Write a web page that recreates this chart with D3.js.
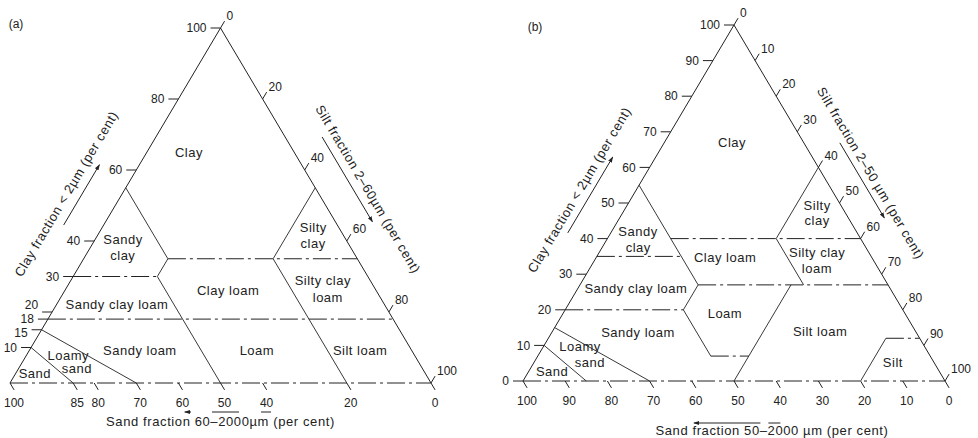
<!DOCTYPE html>
<html><head><meta charset="utf-8">
<script src="https://cdn.jsdelivr.net/npm/d3@7"></script>
<style>
html,body{margin:0;padding:0;background:#fff;}
svg{display:block;font-family:"Liberation Sans",Arial,sans-serif;}
</style></head><body>
<svg id="chart" width="978" height="438"></svg>
<script>
// ---------------- data ----------------
// (a) England & Wales classification (sand 60-2000 µm)
const clayTicksA = [100, 80, 60, 40, 30, 20, 18, 15, 10];
const siltTicksA = [0, 20, 40, 60, 80, 100];
const sandTicksA = [100, 85, 80, 70, 60, 50, 40, 20, 0];
// (b) USDA classification (sand 50-2000 µm)
const clayTicksB = [100, 90, 80, 70, 60, 50, 40, 30, 20, 10, 0];
const siltTicksB = [0, 10, 20, 30, 40, 50, 60, 70, 80, 90, 100];
const sandTicksB = [100, 90, 80, 70, 60, 50, 40, 30, 20, 10, 0];

// class boundaries as [clay %, silt %] vertices (sand = 100 - clay - silt)
const levelLinesA = [[[35, 20], [35, 65]], [[30, 0], [30, 20]], [[18, 0], [18, 82]]];
const slopeLinesA = [[[55, 0], [35, 20], [30, 20], [0, 50]], [[55, 45], [35, 45], [0, 80]],
                     [[15, 0], [0, 30]], [[10, 0], [0, 15]]];
const levelLinesB = [[[40, 15], [40, 60]], [[35, 0], [35, 20]], [[27, 28], [27, 73]],
                     [[20, 0], [20, 28]], [[7, 41], [7, 50]], [[12, 80], [12, 88]]];
const slopeLinesB = [[[55, 0], [27, 28], [20, 28], [7, 41]], [[27, 50], [0, 50]],
                     [[60, 40], [40, 40]], [[40, 40], [27, 53]], [[12, 80], [0, 80]],
                     [[15, 0], [0, 30]], [[10, 0], [0, 15]]];

// class names and their composition anchors [clay %, silt %]
const labelsA = [
  {t: "Clay", c: 65, s: 10}, {t: "Sandy", c: 40.3, s: 6.7}, {t: "clay", c: 35.8, s: 8.9},
  {t: "Sandy clay loam", c: 22, s: 14.4}, {t: "Clay loam", c: 26.2, s: 38.7},
  {t: "Silty", c: 43.7, s: 50.2}, {t: "clay", c: 39.4, s: 52.3},
  {t: "Silty clay", c: 29, s: 59.8}, {t: "loam", c: 24.2, s: 63.4},
  {t: "Loam", c: 9.3, s: 54}, {t: "Silt loam", c: 9.3, s: 78.5},
  {t: "Sandy loam", c: 9.3, s: 26.2}, {t: "Loamy", c: 7.9, s: 9.9},
  {t: "sand", c: 4.2, s: 13.8}, {t: "Sand", c: 2.8, s: 4.5}
];
const labelsB = [
  {t: "Clay", c: 67.1, s: 16}, {t: "Silty", c: 49.4, s: 45}, {t: "clay", c: 45.2, s: 47.1},
  {t: "Sandy", c: 42.1, s: 6.2}, {t: "clay", c: 37.6, s: 8.5},
  {t: "Clay loam", c: 34.8, s: 30.5}, {t: "Silty clay", c: 36, s: 51.7}, {t: "loam", c: 31.7, s: 53.8},
  {t: "Sandy clay loam", c: 26.1, s: 13.7}, {t: "Loam", c: 19.1, s: 38.3},
  {t: "Sandy loam", c: 13.5, s: 20.5}, {t: "Silt loam", c: 13.8, s: 63.5},
  {t: "Loamy", c: 9.6, s: 8.7}, {t: "sand", c: 5.1, s: 13.3}, {t: "Sand", c: 2.8, s: 5.5},
  {t: "Silt", c: 5.3, s: 85}
];

const titlesA = {panel: "(a)", clay: "Clay fraction < 2µm (per cent)",
  silt: "Silt fraction 2–60µm (per cent)", sand: "Sand fraction 60–2000µm (per cent)"};
const titlesB = {panel: "(b)", clay: "Clay fraction < 2µm (per cent)",
  silt: "Silt fraction 2–50 µm (per cent)", sand: "Sand fraction 50–2000 µm (per cent)"};

// ---------------- drawing ----------------
const svg = d3.select("#chart");
const INK = "#222";
const TICKFONT = 12;
const defs = svg.append("defs");
defs.append("marker").attr("id", "ah").attr("viewBox", "0 0 10 10")
  .attr("refX", 9).attr("refY", 5).attr("markerWidth", 6).attr("markerHeight", 6)
  .attr("orient", "auto-start-reverse")
  .append("path").attr("d", "M0,1.5 L10,5 L0,8.5 Z").attr("fill", INK);

function drawPanel(cfg) {
  const g = svg.append("g");
  const x = d3.scaleLinear().domain([0, 100]).range(cfg.xRange);
  const y = d3.scaleLinear().domain([0, 100]).range(cfg.yRange);
  const P = (clay, silt) => [x(silt + clay / 2), y(clay)];
  const line = d3.line().x(d => P(d[0], d[1])[0]).y(d => P(d[0], d[1])[1]);
  const ang = Math.atan2(y(0) - y(100), x(50) - x(0)) * 180 / Math.PI;
  const ux = Math.cos(ang * Math.PI / 180), uy = Math.sin(ang * Math.PI / 180);
  const dash = "18,4,3,4";

  // triangle edges
  g.append("path").attr("d", line([[0, 0], [100, 0], [0, 100]]))
    .attr("fill", "none").attr("stroke", INK).attr("stroke-width", 1);
  g.append("path").attr("d", line([[0, 0], [0, 100]]))
    .attr("fill", "none").attr("stroke", INK).attr("stroke-width", 1).attr("stroke-dasharray", dash);

  // class boundaries
  g.selectAll(".lvl").data(cfg.level).join("path").attr("d", line)
    .attr("fill", "none").attr("stroke", INK).attr("stroke-width", 1).attr("stroke-dasharray", dash);
  g.selectAll(".slp").data(cfg.slope).join("path").attr("d", line)
    .attr("fill", "none").attr("stroke", INK).attr("stroke-width", 0.9);

  // class labels
  g.selectAll(".cls").data(cfg.labels).join("text")
    .attr("x", d => P(d.c, d.s)[0]).attr("y", d => P(d.c, d.s)[1]).attr("dy", "0.35em")
    .attr("text-anchor", "middle").attr("font-size", 13).attr("letter-spacing", 0.5)
    .attr("fill", INK).text(d => d.t);

  // clay ticks (left edge)
  cfg.clayTicks.forEach(v => {
    const [ex, ey] = P(v, 0);
    g.append("line").attr("x1", ex - 10).attr("y1", ey).attr("x2", ex).attr("y2", ey)
      .attr("stroke", INK).attr("stroke-width", 1);
    g.append("text").attr("x", ex - 14).attr("y", ey + (cfg.clayNudge[v] || 0)).attr("dy", "0.35em")
      .attr("text-anchor", "end").attr("font-size", TICKFONT).attr("fill", INK).text(v);
  });
  // silt ticks (right edge)
  cfg.siltTicks.forEach(v => {
    const [ex, ey] = P(100 - v, v);
    g.append("line").attr("x1", ex).attr("y1", ey).attr("x2", ex + 8 * ux).attr("y2", ey - 8 * uy)
      .attr("stroke", INK).attr("stroke-width", 1);
    g.append("text").attr("x", ex + 6).attr("y", ey - 12).attr("dy", "0.35em")
      .attr("text-anchor", "start").attr("font-size", TICKFONT).attr("fill", INK).text(v);
  });
  // sand ticks (bottom edge)
  cfg.sandTicks.forEach(v => {
    const [ex, ey] = P(0, 100 - v);
    g.append("line").attr("x1", ex).attr("y1", ey).attr("x2", ex + 8 * ux).attr("y2", ey + 8 * uy)
      .attr("stroke", INK).attr("stroke-width", 1);
    g.append("text").attr("x", ex + 4).attr("y", ey + 20).attr("dy", "0.35em")
      .attr("text-anchor", "middle").attr("font-size", TICKFONT).attr("fill", INK).text(v);
  });

  // panel letter
  g.append("text").attr("x", cfg.panelPos[0]).attr("y", cfg.panelPos[1]).attr("dy", "0.35em")
    .attr("text-anchor", "middle").attr("font-size", 12).attr("fill", INK).text(cfg.titles.panel);

  // clay axis title + arrow (parallel to left edge)
  const [lx, ly] = P(cfg.clayTitleAt, 0);
  g.append("text").attr("transform", `translate(${lx + cfg.clayTitleOff},${ly}) rotate(${-ang})`)
    .attr("dy", "0.35em").attr("text-anchor", "middle").attr("font-size", 13).attr("letter-spacing", 0.6)
    .attr("fill", INK).text(cfg.titles.clay);
  const a1 = P(cfg.clayArrow[0], 0), a2 = P(cfg.clayArrow[1], 0);
  g.append("line").attr("x1", a1[0] + cfg.clayArrowOff).attr("y1", a1[1])
    .attr("x2", a2[0] + cfg.clayArrowOff).attr("y2", a2[1])
    .attr("stroke", INK).attr("stroke-width", 1).attr("marker-end", "url(#ah)");

  // silt axis title + arrow (parallel to right edge)
  const [rx, ry] = P(100 - cfg.siltTitleAt, cfg.siltTitleAt);
  g.append("text").attr("transform", `translate(${rx + cfg.siltTitleOff},${ry}) rotate(${ang})`)
    .attr("dy", "0.35em").attr("text-anchor", "middle").attr("font-size", 13).attr("letter-spacing", 0.6)
    .attr("fill", INK).text(cfg.titles.silt);
  const b1 = P(100 - cfg.siltArrow[0], cfg.siltArrow[0]), b2 = P(100 - cfg.siltArrow[1], cfg.siltArrow[1]);
  g.append("line").attr("x1", b1[0] + cfg.siltArrowOff).attr("y1", b1[1])
    .attr("x2", b2[0] + cfg.siltArrowOff).attr("y2", b2[1])
    .attr("stroke", INK).attr("stroke-width", 1).attr("marker-end", "url(#ah)");

  // sand axis title + arrow (below bottom edge)
  const s1 = P(0, 100 - cfg.sandArrow[0]), s2 = P(0, 100 - cfg.sandArrow[1]);
  g.append("line").attr("x1", s1[0]).attr("y1", s1[1] + cfg.sandArrowDy)
    .attr("x2", s2[0]).attr("y2", s2[1] + cfg.sandArrowDy)
    .attr("stroke", INK).attr("stroke-width", 1).attr("stroke-dasharray", cfg.sandArrowDash)
    .attr("marker-end", "url(#ah)");
  g.append("text").attr("x", x(cfg.sandTitleU)).attr("y", y(0) + cfg.sandTitleDy).attr("dy", "0.35em")
    .attr("text-anchor", "middle").attr("font-size", 13).attr("letter-spacing", 0.6)
    .attr("fill", INK).text(cfg.titles.sand);
}

drawPanel({
  xRange: [10, 431], yRange: [383, 28],
  level: levelLinesA, slope: slopeLinesA, labels: labelsA,
  clayTicks: clayTicksA, siltTicks: siltTicksA, sandTicks: sandTicksA,
  clayNudge: {20: -7, 15: 3}, titles: titlesA, panelPos: [16, 24],
  clayTitleAt: 53.3, clayTitleOff: -56, clayArrow: [44.5, 61.5], clayArrowOff: -40,
  siltTitleAt: 45.4, siltTitleOff: 52, siltArrow: [30.7, 54.6], siltArrowOff: 37,
  sandArrow: [38, 58.5], sandArrowDy: 29, sandArrowDash: "10,22,27,21,12,100",
  sandTitleU: 50, sandTitleDy: 38
});
drawPanel({
  xRange: [523, 945], yRange: [381, 25],
  level: levelLinesB, slope: slopeLinesB, labels: labelsB,
  clayTicks: clayTicksB, siltTicks: siltTicksB, sandTicks: sandTicksB,
  clayNudge: {}, titles: titlesB, panelPos: [535, 27],
  clayTitleAt: 53.7, clayTitleOff: -57, clayArrow: [41.6, 62.9], clayArrowOff: -43,
  siltTitleAt: 41.6, siltTitleOff: 49, siltArrow: [33.1, 54.2], siltArrowOff: 36,
  sandArrow: [39, 59.5], sandArrowDy: 42, sandArrowDash: "12,8,100",
  sandTitleU: 59, sandTitleDy: 49
});
</script>
</body></html>
